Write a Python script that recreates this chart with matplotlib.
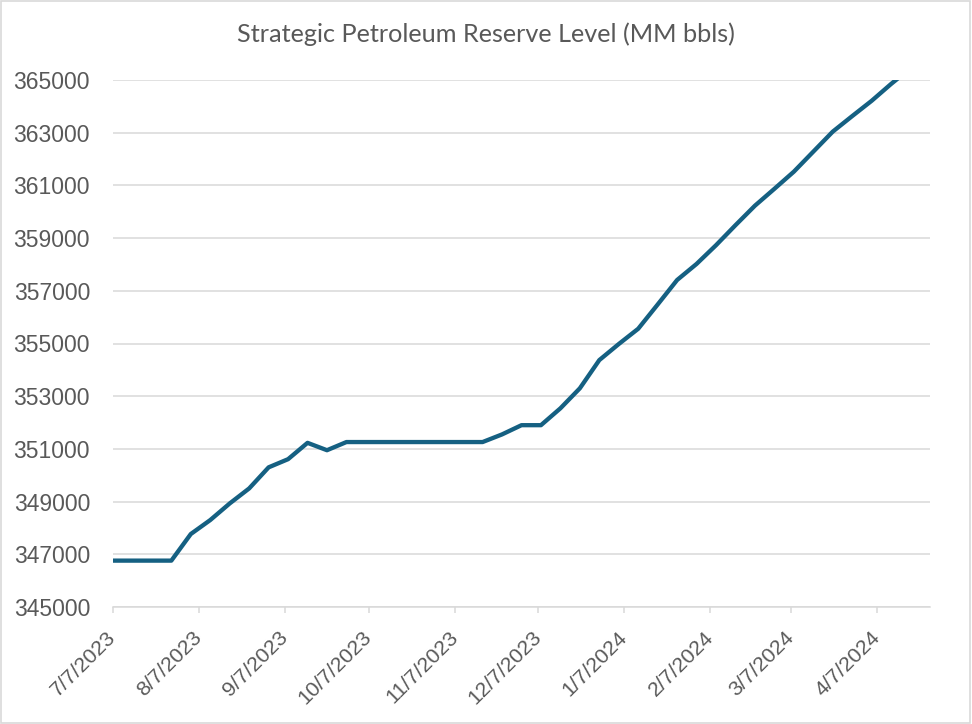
import matplotlib
matplotlib.use("Agg")
import matplotlib.pyplot as plt
import pandas as pd
from matplotlib.patches import Rectangle

# weekly SPR level (thousand bbls), Fridays from 7/7/2023
start_date = "2023-07-07"
spr_level = [346760, 346760, 346760, 346760, 347770, 348300, 348930, 349500,
             350300, 350610, 351230, 350950, 351260, 351260, 351260, 351260,
             351260, 351260, 351260, 351260, 351550, 351900, 351900, 352540,
             353300, 354370, 354980, 355560, 356480, 357410, 358020, 358730,
             359490, 360230, 360870, 361520, 362280, 363040, 363630, 364210,
             364850, 365450, 366050]
tick_dates = ["2023-07-07", "2023-08-07", "2023-09-07", "2023-10-07", "2023-11-07",
              "2023-12-07", "2024-01-07", "2024-02-07", "2024-03-07", "2024-04-07"]
tick_labels = ["7/7/2023", "8/7/2023", "9/7/2023", "10/7/2023", "11/7/2023",
               "12/7/2023", "1/7/2024", "2/7/2024", "3/7/2024", "4/7/2024"]
y_ticks = list(range(345000, 365001, 2000))

dates = pd.date_range(start_date, periods=len(spr_level), freq="7D")

plt.rcParams["font.family"] = ["Liberation Sans", "DejaVu Sans"]
text_col = "#595959"
grid_col = "#d9d9d9"

fig = plt.figure(figsize=(9.72, 7.24), dpi=100)
ax = fig.add_axes([113/972, 1-607/724, (930-113)/972, (607-80)/724])

ax.plot(dates, spr_level, color="#156082", lw=3.1, solid_joinstyle="round",
        solid_capstyle="round", zorder=3)

ax.set_ylim(345000, 365000)
ax.set_xlim(dates[0], dates[-1])
ax.set_yticks(y_ticks)
ax.set_yticklabels([str(v) for v in y_ticks])
ax.yaxis.grid(True, color=grid_col, lw=1.1)
ax.set_axisbelow(True)

ax.set_xticks(pd.to_datetime(tick_dates))
ax.set_xticklabels(tick_labels, rotation=45, ha="right", va="center",
                   rotation_mode="anchor")

for s in ["left", "right", "top"]:
    ax.spines[s].set_visible(False)
ax.spines["bottom"].set_color(grid_col)
ax.spines["bottom"].set_linewidth(1.1)

ax.tick_params(axis="y", length=0, pad=16.5, labelsize=16.5, labelcolor=text_col)
ax.tick_params(axis="x", length=4, width=1.1, color=grid_col, pad=15.5,
               labelsize=15.3, labelcolor=text_col)

fig.text(0.5, 1-34/724, "Strategic Petroleum Reserve Level (MM bbls)",
         ha="center", va="center", fontsize=18.2, color=text_col,
         family=["Lato", "DejaVu Sans"])

fig.patches.append(Rectangle((0.001, 0.001), 0.997, 0.997, transform=fig.transFigure,
                             fill=False, edgecolor=grid_col, lw=1.2))

fig.savefig("out.png", dpi=100, facecolor="white")
